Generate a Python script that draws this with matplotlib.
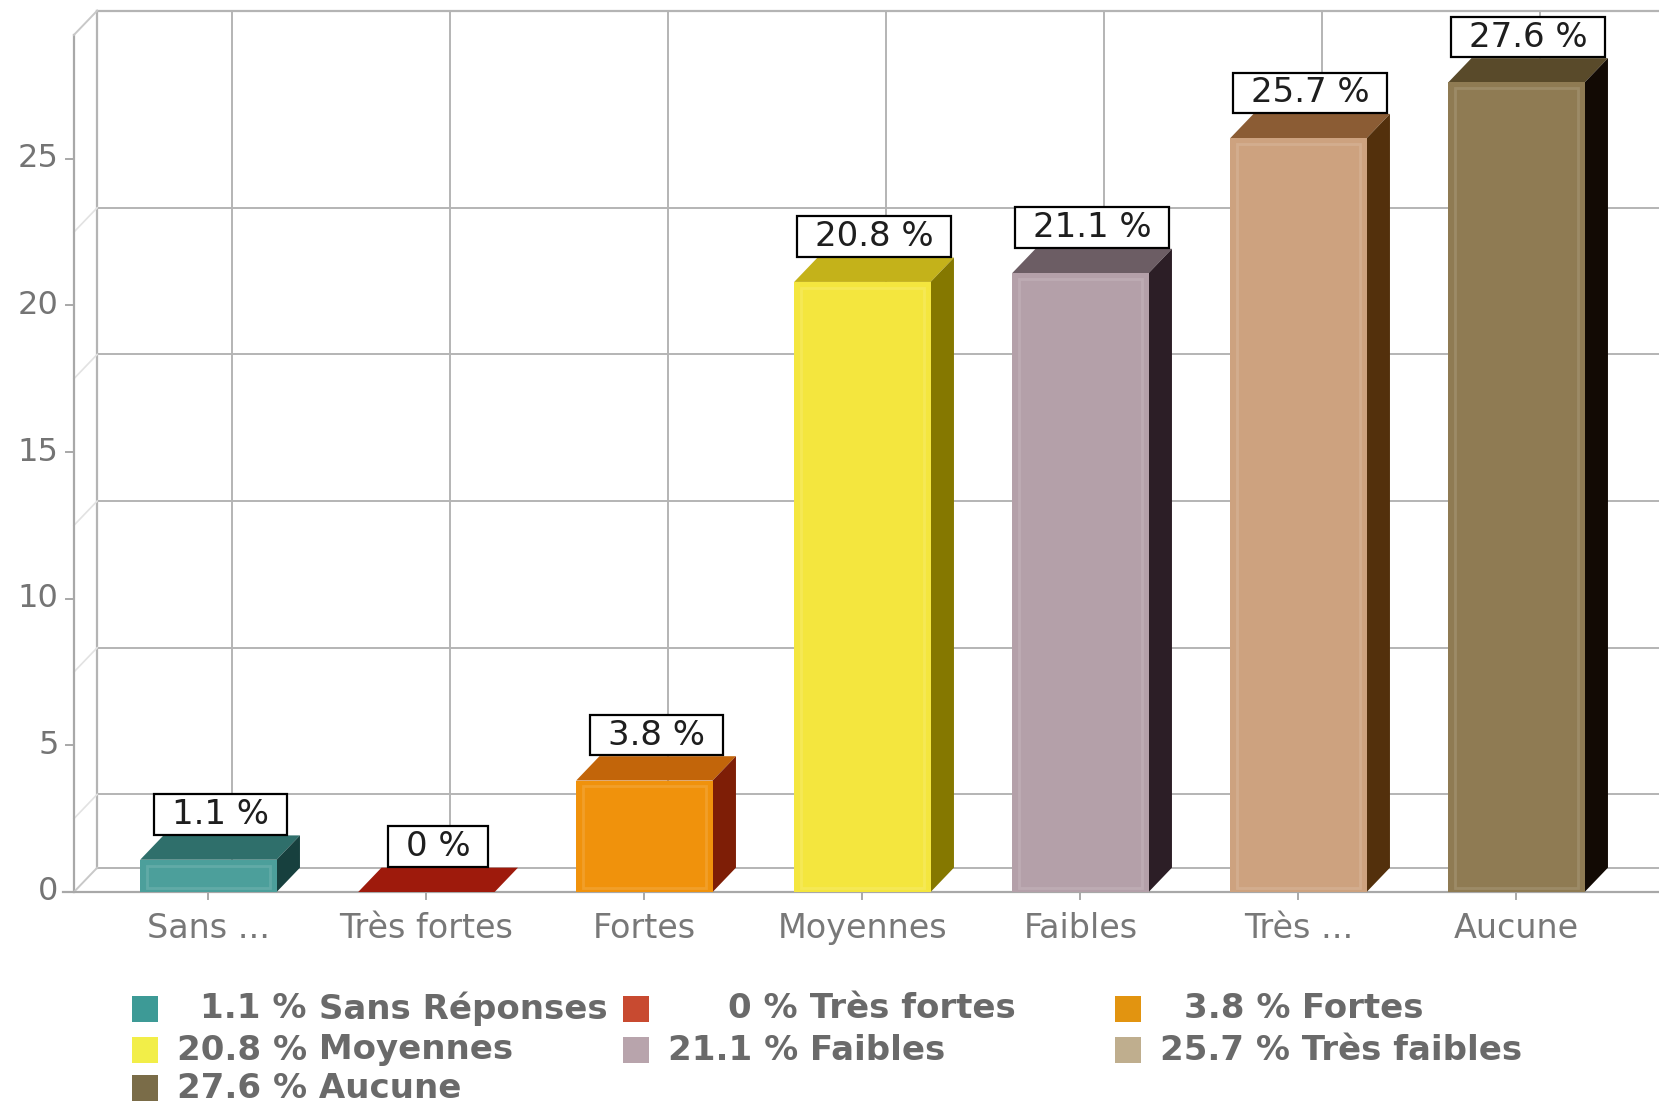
import matplotlib
matplotlib.use("Agg")
import matplotlib.pyplot as plt
from matplotlib.patches import Polygon, Rectangle

# survey answers
categories = ["Sans Réponses", "Très fortes", "Fortes", "Moyennes",
              "Faibles", "Très faibles", "Aucune"]
tick_labels = ["Sans ...", "Très fortes", "Fortes", "Moyennes",
               "Faibles", "Très ...", "Aucune"]
values = [1.1, 0, 3.8, 20.8, 21.1, 25.7, 27.6]
y_ticks = [0, 5, 10, 15, 20, 25]
wall_grid = [2.5, 7.5, 12.5, 17.5, 22.5]

front_colors = ["#4c9f9b", "#b02a14", "#f0920c", "#f4e63e", "#b4a0a9", "#cda27f", "#8f7b53"]
top_colors = ["#2f6f6b", "#9e1a0c", "#c2650a", "#c4b21a", "#6c5d64", "#8b5c34", "#594a2a"]
side_colors = ["#17403e", "#6a0e04", "#7e1e06", "#857800", "#2c1e26", "#53300c", "#120a04"]
legend_colors = ["#3d9a96", "#c84a30", "#e29410", "#f2ee48", "#b8a4ac", "#bfae8e", "#7a6c48"]

W, H = 1659, 1103
X0, XS = 208.4, 218.0      # pixel of category 0, pixels per category
Y0, YS = 892.0, 29.33      # pixel of value 0, pixels per unit
DX, DY = 0.107, 0.83       # 3d depth offset
HW = 0.313                 # half bar width
Y_TOP = 29.22
AX_X = -0.617
GRID = "#b4b4b4"

fig = plt.figure(figsize=(W / 100, H / 100), dpi=100)
ax = fig.add_axes([0, 0, 1, 1])
ax.set_xlim(-X0 / XS, (W - X0) / XS)
ax.set_ylim((Y0 - H) / YS, Y0 / YS)
ax.axis("off")
x_right = (W - X0) / XS

# back wall and floor
bx = AX_X + DX
ax.plot([bx, bx], [DY, Y_TOP + DY], color=GRID, lw=1.6, zorder=1)
ax.plot([bx, x_right], [Y_TOP + DY] * 2, color=GRID, lw=1.6, zorder=1)
ax.plot([bx, x_right], [DY, DY], color=GRID, lw=1.4, zorder=1)
for g in wall_grid:
    ax.plot([bx, x_right], [g + DY] * 2, color=GRID, lw=1.4, zorder=1)
    ax.plot([AX_X, bx], [g, g + DY], color="#e2e2e2", lw=1.2, zorder=1)
for k in range(len(categories)):
    ax.plot([k + DX] * 2, [DY, Y_TOP + DY], color=GRID, lw=1.4, zorder=1)

# front axes
ax.plot([AX_X, AX_X], [0, Y_TOP], color="#a8a8a8", lw=1.6, zorder=2)
ax.plot([AX_X, bx], [Y_TOP, Y_TOP + DY], color="#c8c8c8", lw=1.4, zorder=2)
ax.plot([AX_X, bx], [0, DY], color="#c8c8c8", lw=1.4, zorder=2)
ax.plot([AX_X - 0.05, x_right], [0, 0], color="#a8a8a8", lw=1.6, zorder=2)
for t in y_ticks:
    ax.plot([AX_X - 0.035, AX_X], [t, t], color="#a8a8a8", lw=1.4, zorder=2)
    ax.text(AX_X - 0.07, t, str(t), ha="right", va="center",
            fontsize=23, color="#747474")
for k, lab in enumerate(tick_labels):
    ax.plot([k, k], [0, -0.25], color="#a8a8a8", lw=1.4, zorder=2)
    ax.text(k, -1.25, lab, ha="center", va="center", fontsize=24, color="#787878")

# bars
labels = []
for k, v in enumerate(values):
    l, r = k - HW, k + HW
    top = Polygon([(l, v), (r, v), (r + DX, v + DY), (l + DX, v + DY)],
                  closed=True, fc=top_colors[k], ec="none", zorder=3)
    ax.add_patch(top)
    if v > 0:
        side = Polygon([(r, 0), (r + DX, DY), (r + DX, v + DY), (r, v)],
                       closed=True, fc=side_colors[k], ec="none", zorder=3)
        ax.add_patch(side)
        ax.add_patch(Rectangle((l, 0), 2 * HW, v, fc=front_colors[k],
                               ec="none", zorder=3))
        # soft bevel along the front face
        ax.add_patch(Rectangle((l + 0.03, 0.15), 2 * HW - 0.06, max(v - 0.35, 0),
                               fc="none", ec="white", lw=2.0, alpha=0.12, zorder=3))
    t = ax.text(k + DX / 2, v + DY + 0.72, f"{v:g} %", ha="center", va="center",
                fontsize=24.5, color="#1e1e1e", zorder=5)
    labels.append((t, k, v))

fig.canvas.draw()
renderer = fig.canvas.get_renderer()
for t, k, v in labels:
    bb = t.get_window_extent(renderer)
    bw = (bb.width + 36) / XS
    ax.add_patch(Rectangle((k + DX / 2 - bw / 2, v + DY + 0.03), bw, 1.38,
                           fc="white", ec="black", lw=1.6, zorder=4))

# legend in three columns
marker_x = [132, 623, 1115]
pct_end = [307, 798, 1290]
row_y = [1009, 1050, 1088]
for i, (name, v) in enumerate(zip(categories, values)):
    c, r = i % 3, i // 3
    yf = 1 - row_y[r] / H
    fig.patches.append(Rectangle((marker_x[c] / W, 1 - (row_y[r] + 13) / H),
                                 26 / W, 26 / H, transform=fig.transFigure,
                                 fc=legend_colors[i], ec="none"))
    fig.text(pct_end[c] / W, yf, f"{v:g} %", ha="right", va="center",
             fontsize=24.5, fontweight="bold", color="#6a6a6a")
    fig.text(pct_end[c] / W, yf, f" {name}", ha="left", va="center",
             fontsize=24.5, fontweight="bold", color="#6a6a6a")

fig.savefig("out.png", dpi=100, facecolor="white")
